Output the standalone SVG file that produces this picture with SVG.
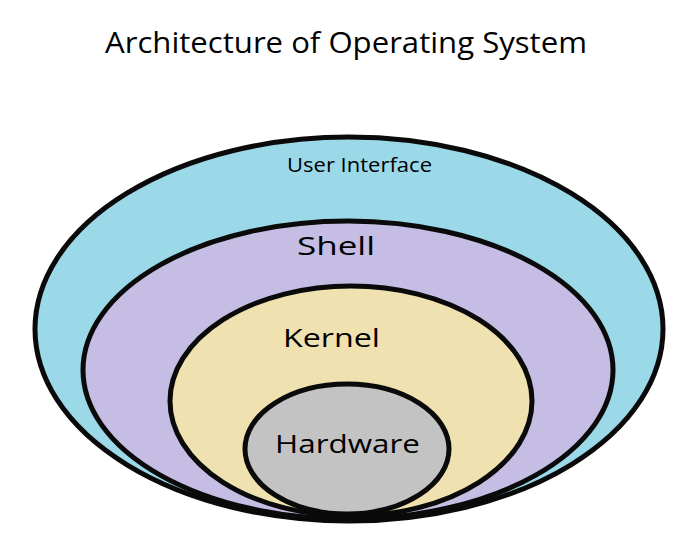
<svg xmlns="http://www.w3.org/2000/svg" width="687" height="554" viewBox="0 0 687 554">
  <style>
    .layer { stroke: #0a0a0a; stroke-width: 5; }
    .lbl { font-family: "Segoe Print", "Comic Sans MS", "Open Sans", "Noto Sans", sans-serif; fill: #000; font-weight: 400; }
  </style>
  <rect width="687" height="554" fill="#ffffff"/>
  <text class="lbl" x="105" y="53" font-size="30" textLength="482" lengthAdjust="spacingAndGlyphs">Architecture of Operating System</text>
  <g id="user-interface">
    <ellipse class="layer" cx="349" cy="329" rx="314" ry="192" fill="#9bd8e8"/>
    <text class="lbl" x="287" y="172" font-size="20" textLength="145" lengthAdjust="spacingAndGlyphs">User Interface</text>
  </g>
  <g id="shell">
    <ellipse class="layer" cx="348" cy="370" rx="265" ry="149" fill="#c5bde3"/>
    <text class="lbl" x="297" y="255" font-size="25" textLength="78" lengthAdjust="spacingAndGlyphs">Shell</text>
  </g>
  <g id="kernel">
    <ellipse class="layer" cx="351" cy="401" rx="181" ry="115" fill="#efe2b0"/>
    <text class="lbl" x="283" y="347" font-size="25" textLength="97" lengthAdjust="spacingAndGlyphs">Kernel</text>
  </g>
  <g id="hardware">
    <ellipse class="layer" cx="347" cy="449" rx="102" ry="65" fill="#c3c3c3"/>
    <text class="lbl" x="275" y="453" font-size="26" textLength="145" lengthAdjust="spacingAndGlyphs">Hardware</text>
  </g>
  <g id="connectors"></g>
</svg>
